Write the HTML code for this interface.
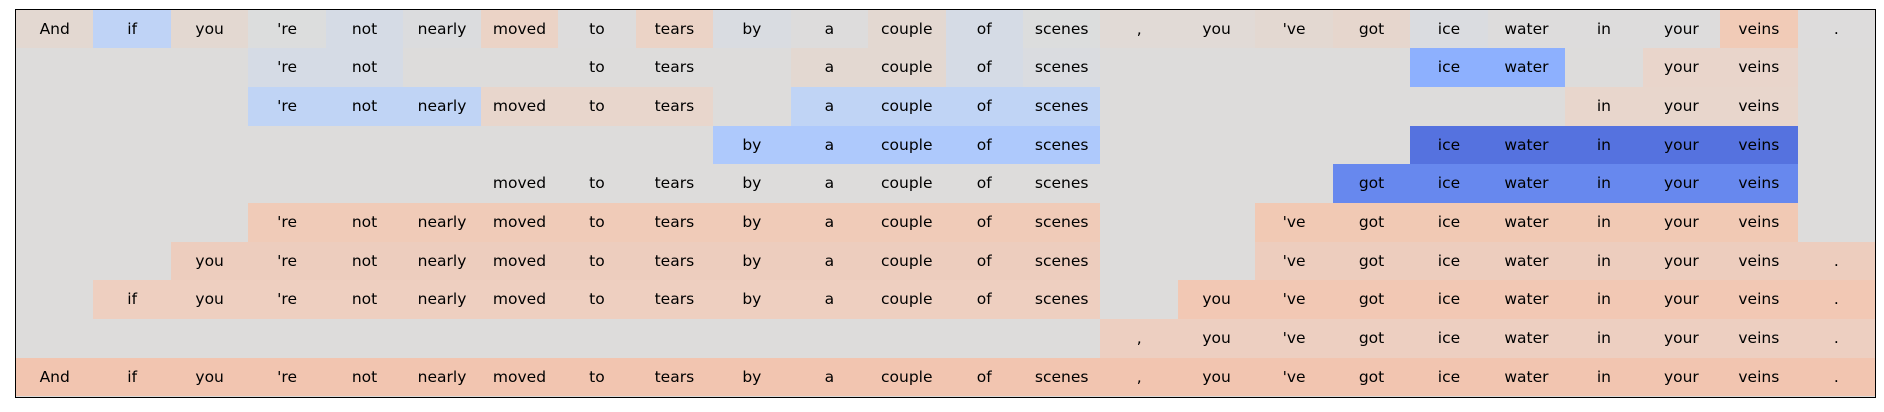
<!DOCTYPE html>
<html><head><meta charset="utf-8"><style>
html,body{margin:0;padding:0;background:#fff;width:1884px;height:412px;overflow:hidden}
#f{position:absolute;left:15px;top:8.5px;width:1859px;height:387px;border:1px solid #000;background:#dddcdb}
.c{position:absolute;width:77.46px;height:38.7px;line-height:38.7px;text-align:center;font-family:"DejaVu Sans","Liberation Sans",sans-serif;font-size:15.5px;color:#000}
</style></head><body><div id="f"></div>
<script>
const W=["And","if","you","'re","not","nearly","moved","to","tears","by","a","couple","of","scenes",",","you","'ve","got","ice","water","in","your","veins","."];
const G=null;
function row(spec){ // spec: array of 24 entries [show,color]
 return spec;}
const rows=[];
// row1
rows.push(["#e3d8d1","#bfd3f6","#e3d8d1","#dcdddd","#d5dbe5","#dbdcde","#ebd3c6","#dddcdc","#ebd3c6","#d9dce1","#dddcdc","#e3d8d1","#d5dbe5","#dcdddd","#e1dad6","#e1dad6","#e3d8d1","#e6d6cd","#dadce0","#dddcdc","#dddcdc","#dddcdc","#f1cbb7","#dddcdc"].map(c=>[1,c]));
function mk(ranges){const r=[];for(let i=0;i<24;i++)r.push([0,null]);ranges.forEach(([a,b,c])=>{for(let i=a;i<=b;i++)r[i]=[1,c]});return r;}
rows.push(mk([[3,4,"#d5dbe5"],[7,8,null],[10,11,"#e3d8d1"],[12,12,"#d5dbe5"],[13,13,"#dadce0"],[18,19,"#8db0fe"],[21,22,"#e9d5cb"]]));
rows.push(mk([[3,5,"#c0d4f5"],[6,8,"#e8d6cc"],[10,13,"#c0d4f5"],[20,22,"#e8d6cc"]]));
rows.push(mk([[9,13,"#aec9fc"],[18,22,"#5572df"]]));
rows.push(mk([[6,13,null],[17,22,"#6788ee"]]));
rows.push(mk([[3,13,"#f0cbb8"],[16,22,"#f1c9b4"]]));
rows.push(mk([[2,13,"#edcdbe"],[16,23,"#edcdbe"]]));
rows.push(mk([[1,13,"#eecfc0"],[15,23,"#f2c8b4"]]));
rows.push(mk([[14,23,"#edcfc1"]]));
rows.push(mk([[0,23,"#f2c5b0"]]));
let h="";
rows.forEach((r,ri)=>r.forEach(([s,c],ci)=>{if(!s)return;
 h+=`<div class="c" style="left:${16+ci*77.46}px;top:${9.5+ri*38.7}px;${c?'background:'+c:''}">${W[ci]}</div>`}));
document.body.insertAdjacentHTML("beforeend",h);
</script></body></html>
